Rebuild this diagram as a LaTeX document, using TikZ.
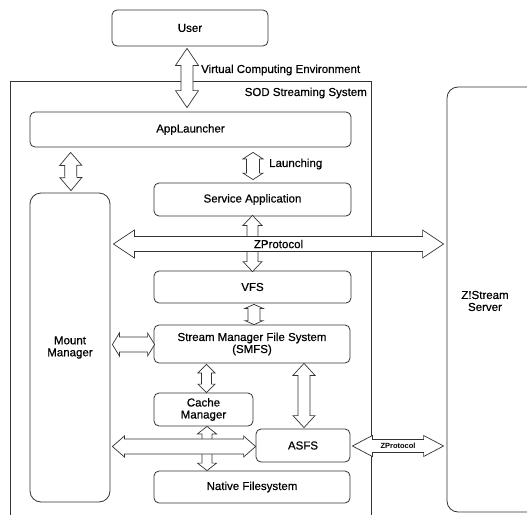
\documentclass[tikz,border=0pt]{standalone}
\usepackage{fontspec}
\setmainfont{Liberation Sans}
\newfontfamily\gul{Liberation Sans}[FakeBold=0.5]
\usetikzlibrary{calc}
\definecolor{edge}{HTML}{333333}
\tikzset{
  box/.style={draw=edge, line width=0.8pt, rounded corners=5pt, align=center, inner sep=0pt, font=\gul\fontsize{11.5}{12}\selectfont},
  bigbox/.style={box, rounded corners=11pt},
  lbl/.style={inner sep=0pt, font=\gul\fontsize{11.5}{12}\selectfont},
  fatarrow/.style={draw=edge, line width=0.7pt, fill=white, line join=miter},
}
\newcommand\dblarrow[5]{%
  \coordinate (ha) at ($(#1)!#5!(#2)$);
  \coordinate (hb) at ($(#2)!#5!(#1)$);
  \draw[fatarrow] (#1) -- ($(ha)!#4!90:(#2)$) -- ($(ha)!#3!90:(#2)$)
    -- ($(hb)!#3!-90:(#1)$) -- ($(hb)!#4!-90:(#1)$) -- (#2)
    -- ($(hb)!#4!90:(#1)$) -- ($(hb)!#3!90:(#1)$)
    -- ($(ha)!#3!-90:(#2)$) -- ($(ha)!#4!-90:(#2)$) -- cycle;}
\begin{document}
\begin{tikzpicture}[x=1pt,y=-1pt]
\clip (0,0) rectangle (527,514);
\fill[white] (0,0) rectangle (527,514);
% outer system frame
\node[draw=edge, line width=0.8pt, minimum width=361pt, minimum height=460pt, inner sep=0pt] (sod) at (190.5,311) {};
\node[lbl, anchor=east] (sodlbl) at (367,93) {SOD Streaming System};
% boxes
\node[box, minimum width=156pt, minimum height=36pt] (user) at (190,28) {User};
\node[box, minimum width=321pt, minimum height=35pt] (app) at (190.5,129.5) {AppLauncher};
\node[bigbox, minimum width=120pt, minimum height=425pt] (zss) at (507,299.5) {};
\node[lbl, align=center] (zsslbl) at (485,301) {Z!Stream\\Server};
\node[bigbox, minimum width=80pt, minimum height=309pt] (mm) at (70,347.5) {Mount\\Manager};
\node[box, minimum width=197pt, minimum height=33pt] (svc) at (252.5,199.5) {Service Application};
\node[box, minimum width=197pt, minimum height=32pt] (vfs) at (252.5,287) {VFS};
\node[box, minimum width=196pt, minimum height=38pt] (smfs) at (252,344) {Stream Manager File System\\(SMFS)};
\node[box, minimum width=99pt, minimum height=33pt] (cache) at (203.5,409.5) {Cache\\Manager};
\node[box, minimum width=94pt, minimum height=33pt] (asfs) at (303,445.5) {ASFS};
\node[box, minimum width=196pt, minimum height=32pt] (native) at (252,487) {Native Filesystem};
% connector end points
\coordinate (u1) at ($(user.south)+(-3,2)$);
\coordinate (u2) at ($(app.north)+(-3.5,-4)$);
\coordinate (m1) at ($(app.south west)+(41,5)$);
\coordinate (m2) at ($(mm.north)+(1,-2)$);
\coordinate (l1) at ($(app.south)+(62.5,5)$);
\coordinate (l2) at ($(svc.north)+(0.5,-3)$);
\coordinate (s1) at ($(svc.south)+(0,-1)$);
\coordinate (s2) at ($(vfs.north)+(0,1)$);
\coordinate (v1) at ($(vfs.south)+(1.5,1)$);
\coordinate (v2) at ($(smfs.north)+(2,0)$);
\coordinate (c1) at ($(smfs.south)+(-45.5,1)$);
\coordinate (c2) at ($(cache.north)+(3,0)$);
\coordinate (a1) at ($(smfs.south)+(52,0)$);
\coordinate (a2) at ($(asfs.north)+(1,-1)$);
\coordinate (n1) at ($(cache.south)+(3.5,0)$);
\coordinate (n2) at ($(native.north)+(-45,0)$);
\coordinate (z1) at ($(mm.east)+(3,-103.5)$);
\coordinate (z2) at ($(zss.west)+(-3,-55.5)$);
\coordinate (k1) at ($(mm.east)+(2,-3)$);
\coordinate (k2) at ($(smfs.west)+(1,0.5)$);
\coordinate (q1) at ($(mm.east)+(2,99)$);
\coordinate (q2) at ($(asfs.west)+(0,1)$);
\coordinate (p1) at ($(asfs.east)+(2,0.5)$);
\coordinate (p2) at ($(zss.west)+(-3,146.5)$);
% vertical connectors
\dblarrow{u1}{u2}{6pt}{11.5pt}{17pt}
\dblarrow{m1}{m2}{6pt}{11pt}{13pt}
\dblarrow{l1}{l2}{6.5pt}{10pt}{6.5pt}
\dblarrow{s1}{s2}{5.5pt}{9.5pt}{10pt}
\dblarrow{v1}{v2}{6pt}{9pt}{4pt}
\dblarrow{c1}{c2}{5pt}{8.5pt}{8.5pt}
\dblarrow{a1}{a2}{6pt}{11pt}{12pt}
\dblarrow{n1}{n2}{5pt}{9.5pt}{7.5pt}
% horizontal connectors
\dblarrow{z1}{z2}{7.5pt}{14pt}{21pt}
\dblarrow{k1}{k2}{7.5pt}{11.5pt}{7pt}
\dblarrow{q1}{q2}{7.5pt}{10.5pt}{12pt}
\dblarrow{p1}{p2}{6.5pt}{10.5pt}{20pt}
% labels
\node[lbl, anchor=west] (vce) at (201,70) {Virtual Computing Environment};
\node[lbl, anchor=west] (launch) at (269,164) {Launching};
\node[lbl] (zp1) at (278.5,244) {ZProtocol};
\node[inner sep=0pt, font=\fontsize{7.5}{8}\selectfont\bfseries] (zp2) at (398,446) {ZProtocol};
\end{tikzpicture}
\end{document}
